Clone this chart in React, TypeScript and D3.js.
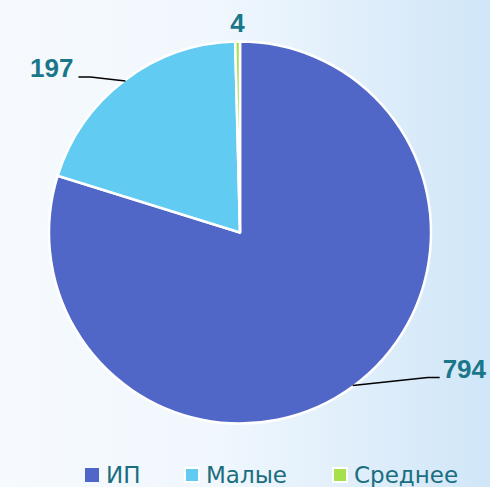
import React from "react";
import * as d3 from "d3";

const categories = ["ИП", "Малые", "Среднее"];
const values = [794, 197, 4];
const colors = ["#5067c8", "#62cbf1", "#a6e04a"];

const W = 490;
const H = 487;

export default function App() {
  const cx = 240, cy = 232.5, r = 191;
  const pie = d3.pie<number>().sort(null).value((d) => d)(values);
  const arc = d3.arc<d3.PieArcDatum<number>>().innerRadius(0).outerRadius(r);
  const labelColor = "#1a7689";

  const polar = (a: number, rad: number) => [Math.sin(a) * rad, -Math.cos(a) * rad];

  const labelCfg = [
    { line: true, elbow: [75, -8], text: [90, -8], anchor: "start" },
    { line: true, elbow: [-35, -4], text: [-52, -4], anchor: "end" },
    { line: false, radius: 201, anchor: "middle" },
  ];

  return (
    <svg width={W} height={H} style={{ display: "block", position: "fixed", left: 0, top: 0 }}>
      <defs>
        <linearGradient id="bg" x1="0" y1="0" x2="1" y2="0">
          <stop offset="0%" stopColor="#f6fafe" />
          <stop offset="45%" stopColor="#f0f7fd" />
          <stop offset="100%" stopColor="#d0e6f8" />
        </linearGradient>
      </defs>
      <rect width={W} height={H} fill="url(#bg)" />
      <g transform={`translate(${cx},${cy})`}>
        {pie.map((p, i) => (
          <path key={i} d={arc(p) || ""} fill={colors[i]} stroke="#ffffff" strokeWidth={2.5} strokeLinejoin="round" />
        ))}
        {pie.map((p, i) => {
          const mid = (p.startAngle + p.endAngle) / 2;
          const cfg = labelCfg[i];
          if (!cfg.line) {
            const [x, y] = polar(mid, cfg.radius as number);
            return (
              <text key={i} x={x} y={y} textAnchor="middle" fontFamily="Liberation Sans, Arial, sans-serif" fontWeight="bold" fontSize={26} fill={labelColor}>
                {values[i]}
              </text>
            );
          }
          const [sx, sy] = polar(mid, r - 1);
          const e = cfg.elbow as number[];
          const t = cfg.text as number[];
          const ex = sx + e[0], ey = sy + e[1];
          const tx = sx + t[0], ty = sy + t[1];
          const endX = i === 0 ? tx - 3 : tx + 5;
          return (
            <g key={i}>
              <polyline points={`${sx},${sy} ${ex},${ey} ${endX},${ey}`} fill="none" stroke="#000" strokeWidth={1.5} />
              <text x={tx} y={ty} textAnchor={cfg.anchor as any} fontFamily="Liberation Sans, Arial, sans-serif" fontWeight="bold" fontSize={26} fill={labelColor}>
                {values[i]}
              </text>
            </g>
          );
        })}
      </g>
      <g>
        {categories.map((c, i) => {
          const xs = [85, 185, 333];
          return (
            <g key={c} transform={`translate(${xs[i]},468)`}>
              <rect x={0} y={0} width={14} height={14} fill={colors[i]} stroke={i === 0 ? "none" : "#ffffff"} strokeWidth={2} />
              <text x={21} y={15} fontFamily="DejaVu Sans, Verdana, sans-serif" fontSize={23} fill="#1a6e80">
                {c}
              </text>
            </g>
          );
        })}
      </g>
    </svg>
  );
}
